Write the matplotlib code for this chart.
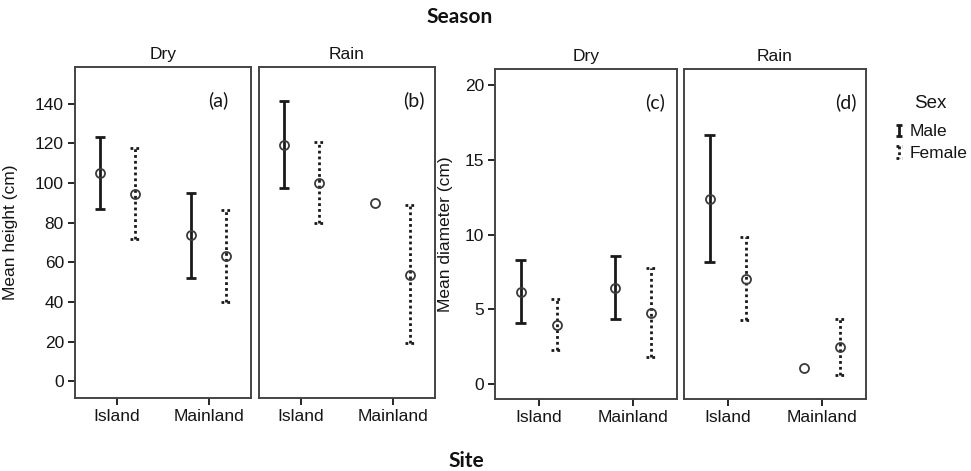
import numpy as np
import matplotlib
matplotlib.use('Agg')
import matplotlib.pyplot as plt

plt.rcParams['font.family'] = ['Liberation Sans', 'DejaVu Sans']

sites = ['Island', 'Mainland']
seasons = ['Dry', 'Rain']

# [dry, rain] -> [island, mainland]
height_male_mean = [[105.2, 73.7], [119.3, 90.0]]
height_male_low = [[87.0, 52.2], [97.6, np.nan]]
height_male_high = [[123.2, 95.1], [141.3, np.nan]]
height_female_mean = [[94.6, 62.9], [100.0, 53.8]]
height_female_low = [[71.5, 39.9], [79.8, 19.4]]
height_female_high = [[117.8, 86.3], [120.6, 89.0]]

diam_male_mean = [[6.17, 6.41], [12.4, 1.05]]
diam_male_low = [[4.07, 4.34], [8.16, np.nan]]
diam_male_high = [[8.29, 8.56], [16.7, np.nan]]
diam_female_mean = [[3.93, 4.76], [7.04, 2.46]]
diam_female_low = [[2.23, 1.79], [4.25, 0.56]]
diam_female_high = [[5.68, 7.75], [9.83, 4.34]]

W, H = 971, 471
fig = plt.figure(figsize=(W / 100, H / 100), dpi=100)

def px(x0, y0, x1, y1):
    return [x0 / W, 1 - y1 / H, (x1 - x0) / W, (y1 - y0) / H]

ink = '#1a1a1a'
txt = '#151515'
dotted = (0, (1, 1.1))
cw = 0.055
off = 0.19

def draw_series(ax, mean, low, high, dx, ls):
    x = np.arange(len(sites)) + dx
    mean = np.array(mean)
    low = np.array(low)
    high = np.array(high)
    ok = ~np.isnan(low)
    ax.vlines(x[ok], low[ok], high[ok], colors=ink, lw=2, linestyles=ls)
    for v in (low, high):
        ax.hlines(v[ok], x[ok] - cw, x[ok] + cw, colors=ink, lw=2, linestyles=ls)
    ax.plot(x, mean, 'o', mfc='none', mec='#3a3a3a', ms=6.5, mew=1.3, zorder=3)

def panel(rect, i, ylim, yticks, show_y, data, tag, tag_x):
    ax = fig.add_axes(rect)
    mm, ml, mh, fm, fl, fh = data
    draw_series(ax, mm[i], ml[i], mh[i], -off, '-')
    draw_series(ax, fm[i], fl[i], fh[i], off, dotted)
    ax.set_xlim(-0.46, 1.46)
    ax.set_ylim(*ylim)
    ax.set_xticks(range(len(sites)))
    ax.set_xticklabels(sites)
    ax.set_yticks(yticks)
    ax.tick_params(axis='both', labelsize=12.5, colors=txt, length=5, width=1.3,
                   direction='out', pad=3)
    if not show_y:
        ax.tick_params(axis='y', left=False, labelleft=False)
    for s in ax.spines.values():
        s.set_color('#444')
        s.set_linewidth(1.4)
    ax.set_title(seasons[i], fontsize=12.5, pad=6, color=txt)
    ax.text(tag_x, 0.9, tag, transform=ax.transAxes, ha='center', va='center',
            fontsize=14, family=['Lato', 'DejaVu Sans'], color=txt)
    return ax

hdata = (height_male_mean, height_male_low, height_male_high,
         height_female_mean, height_female_low, height_female_high)
ddata = (diam_male_mean, diam_male_low, diam_male_high,
         diam_female_mean, diam_female_low, diam_female_high)

hy = (-8.5, 158.5)
dy = (-1.03, 21.1)
a = panel(px(75, 67, 251, 398), 0, hy, range(0, 141, 20), True, hdata, '(a)', 0.816)
b = panel(px(259, 67, 435, 398), 1, hy, range(0, 141, 20), False, hdata, '(b)', 0.88)
c = panel(px(495, 69, 677, 399), 0, dy, range(0, 21, 5), True, ddata, '(c)', 0.881)
d = panel(px(684, 69, 866, 399), 1, dy, range(0, 21, 5), False, ddata, '(d)', 0.887)

a.set_ylabel('Mean height (cm)', fontsize=12.5, color=txt)
a.yaxis.set_label_coords(-0.324, 0.5)
c.set_ylabel('Mean diameter (cm)', fontsize=12.5, color=txt)
c.yaxis.set_label_coords(-0.231, 0.5)

bold = ['Lato', 'DejaVu Sans']
fig.text(460 / W, 1 - 17 / H, 'Season', ha='center', va='center', fontsize=15,
         fontweight='bold', family=bold, color='#111')
fig.text(466 / W, 1 - 461 / H, 'Site', ha='center', va='center', fontsize=15,
         fontweight='bold', family=bold, color='#111')

# legend
leg = fig.add_axes([0, 0, 1, 1])
leg.set_xlim(0, W)
leg.set_ylim(H, 0)
leg.axis('off')
leg.text(930, 103, 'Sex', ha='center', va='center', fontsize=13.5, color=txt)
leg.vlines(899, 124.5, 136, colors=ink, lw=2)
leg.hlines([124.5, 136], 896, 902, colors=ink, lw=2)
leg.vlines(899, 146, 158, colors=ink, lw=2, linestyles=dotted)
leg.hlines([146, 158], 896, 902, colors=ink, lw=2, linestyles=dotted)
leg.text(910, 131, 'Male', ha='left', va='center', fontsize=12.5, color=txt)
leg.text(910, 153, 'Female', ha='left', va='center', fontsize=12.5, color=txt)

fig.savefig('out.png', dpi=100, facecolor='white')
